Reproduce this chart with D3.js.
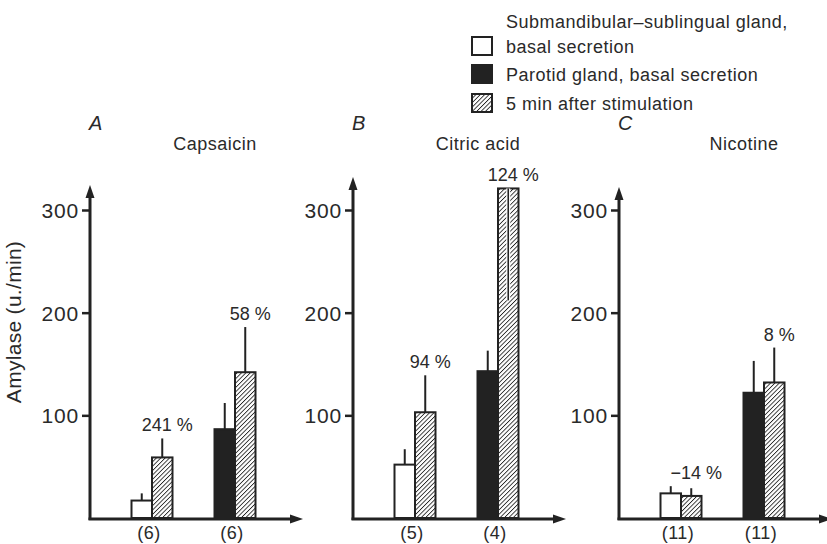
<!DOCTYPE html>
<html><head><meta charset="utf-8">
<script src="https://cdn.jsdelivr.net/npm/d3@7"></script>
<style>
html,body{margin:0;padding:0;background:#fff;}
svg{display:block;}
text{font-family:"Liberation Sans",Arial,sans-serif;fill:#2a2a2a;}
</style></head>
<body>
<svg id="chart" width="827" height="544"></svg>
<script>
// ---- data ----
const panelLetters = ["A", "B", "C"];
const stimulants = ["Capsaicin", "Citric acid", "Nicotine"];
const groupCounts = [["(6)", "(6)"], ["(5)", "(4)"], ["(11)", "(11)"]];
const submBasal   = [17, 52, 24];
const submBasalSE = [7, 15, 7];
const submStim    = [59, 103, 21.5];
const submStimSE  = [18.5, 36, 7.5];
const parBasal    = [86.5, 143, 122];
const parBasalSE  = [25.5, 20, 31];
const parStim     = [142, 321, 132];
const parStimSE   = [44, 109, 34];
const pctLabels = [["241 %", "58 %"], ["94 %", "124 %"], ["\u221214 %", "8 %"]];
const yTicks = [100, 200, 300];
const yLabel = "Amylase (u./min)";
const legendLabels = [["Submandibular\u2013sublingual gland,", "basal secretion"], ["Parotid gland, basal secretion"], ["5 min after stimulation"]];

// ---- layout ----
const svg = d3.select("#chart");
const ink = "#222";
const panelX = [90, 353, 619];
const arrowTop = [185, 177, 187];
const axisLen = 213;
const y = d3.scaleLinear().domain([0, 300]).range([518, 210]);
const bw = 20.5;

const defs = svg.append("defs");
const hp = 3.1;
const pat = defs.append("pattern").attr("id", "hatch")
  .attr("patternUnits", "userSpaceOnUse").attr("width", hp).attr("height", hp)
  .attr("patternTransform", "rotate(45)");
pat.append("rect").attr("width", hp).attr("height", hp).attr("fill", "#fff");
pat.append("line").attr("x1", 0).attr("y1", 0).attr("x2", 0).attr("y2", hp)
  .attr("stroke", ink).attr("stroke-width", 1.7);

// y label
svg.append("text").attr("transform", "translate(21,322) rotate(-90)")
  .attr("text-anchor", "middle").style("font-size", "21px").style("letter-spacing", "0.3px").text(yLabel);

panelLetters.forEach((letter, p) => {
  const px = panelX[p];
  const g = svg.append("g");
  const x = d3.scalePoint().domain([0, 1]).range([px + 62, px + 145]);

  // axis lines
  g.append("line").attr("x1", px).attr("x2", px).attr("y1", y(0) + 2).attr("y2", arrowTop[p] + 8)
    .attr("stroke", ink).attr("stroke-width", 3);
  g.append("path").attr("d", `M${px},${arrowTop[p]} L${px - 4.5},${arrowTop[p] + 13} L${px + 4.5},${arrowTop[p] + 13} Z`).attr("fill", ink);
  const by = y(0) + 1;
  g.append("line").attr("x1", px - 1.5).attr("x2", px + axisLen - 8).attr("y1", by).attr("y2", by)
    .attr("stroke", ink).attr("stroke-width", 3);
  g.append("path").attr("d", `M${px + axisLen},${by} L${px + axisLen - 13},${by - 4.5} L${px + axisLen - 13},${by + 4.5} Z`).attr("fill", ink);

  // ticks
  const ax = g.append("g").attr("transform", `translate(${px},0)`)
    .call(d3.axisLeft(y).tickValues(yTicks).tickSize(8).tickPadding(3).tickFormat(d3.format("d")));
  ax.select(".domain").remove();
  ax.selectAll(".tick line").attr("stroke", ink).attr("stroke-width", 2.5);
  ax.selectAll(".tick text").style("font-size", "21px").style("letter-spacing", "0.8px")
    .style("font-family", "'Liberation Sans',Arial,sans-serif").attr("fill", "#2a2a2a").attr("dy", "0.36em");

  // titles
  g.append("text").attr("x", px - 1).attr("y", 130).style("font-size", "20px").style("font-style", "italic").text(letter);
  g.append("text").attr("x", px + 125).attr("y", 150).attr("text-anchor", "middle").style("font-size", "18px")
    .style("letter-spacing", "0.5px").text(stimulants[p]);

  const groups = [
    { left: submBasal[p], leftSE: submBasalSE[p], leftFill: "#fff", right: submStim[p], rightSE: submStimSE[p] },
    { left: parBasal[p], leftSE: parBasalSE[p], leftFill: ink, right: parStim[p], rightSE: parStimSE[p] }
  ];
  groups.forEach((gr, i) => {
    const c = x(i);
    const errUp = (v, se, cx) => {
      g.append("line").attr("x1", cx).attr("x2", cx).attr("y1", y(v)).attr("y2", y(v + se))
        .attr("stroke", ink).attr("stroke-width", 2);
    };
    errUp(gr.left, gr.leftSE, c - bw / 2);
    const downward = gr.right + gr.rightSE > 320;
    if (!downward) errUp(gr.right, gr.rightSE, c + bw / 2);
    g.append("rect").attr("x", c - bw).attr("y", y(gr.left)).attr("width", bw).attr("height", y(0) - y(gr.left))
      .attr("fill", gr.leftFill).attr("stroke", ink).attr("stroke-width", 2);
    g.append("rect").attr("x", c).attr("y", y(gr.right)).attr("width", bw).attr("height", y(0) - y(gr.right))
      .attr("fill", "url(#hatch)").attr("stroke", ink).attr("stroke-width", 2);
    if (downward) {
      g.append("line").attr("x1", c + bw / 2).attr("x2", c + bw / 2).attr("y1", y(gr.right)).attr("y2", y(gr.right - gr.rightSE))
        .attr("stroke", "#fff").attr("stroke-width", 4);
      g.append("line").attr("x1", c + bw / 2).attr("x2", c + bw / 2).attr("y1", y(gr.right)).attr("y2", y(gr.right - gr.rightSE))
        .attr("stroke", ink).attr("stroke-width", 1.6);
    }
    const topVal = downward ? gr.right : Math.max(gr.right + gr.rightSE, gr.left + gr.leftSE * (i === 0 && p === 2 ? 1 : 0));
    g.append("text").attr("x", c + bw / 2 + 5).attr("y", y(topVal) - 7).attr("text-anchor", "middle")
      .style("font-size", "18px").text(pctLabels[p][i]);
    g.append("text").attr("x", c - 3).attr("y", 539).attr("text-anchor", "middle")
      .style("font-size", "18px").style("letter-spacing", "0.5px").text(groupCounts[p][i]);
  });
});

// legend
const legX = 472, boxW = 20, boxH = 18;
const legBoxY = [37, 65, 94];
const legFills = ["#fff", ink, "url(#hatch)"];
const lg = svg.append("g");
legendLabels.forEach((lines, i) => {
  lg.append("rect").attr("x", legX).attr("y", legBoxY[i]).attr("width", boxW).attr("height", boxH)
    .attr("fill", legFills[i]).attr("stroke", ink).attr("stroke-width", 2);
  const base = legBoxY[i] + boxH / 2 + 6.5;
  lines.forEach((t, j) => {
    lg.append("text").attr("x", 506).attr("y", base - (lines.length - 1 - j) * 25)
      .style("font-size", "18px").style("letter-spacing", "0.5px").text(t);
  });
});
</script>
</body></html>
